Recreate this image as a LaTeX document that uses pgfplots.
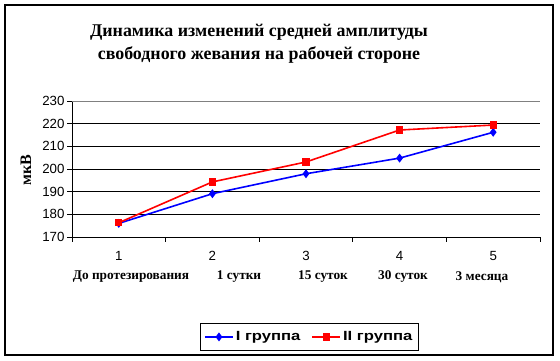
\documentclass[border=0pt]{standalone}
\usepackage{graphicx}
\usepackage{pgfplots}
\pgfplotsset{compat=1.18}
\usepackage{fontspec}
\setmainfont{Liberation Sans}
\newfontfamily\serif{Liberation Serif}
\begin{document}
\begin{tikzpicture}
\path (0pt,0pt) rectangle (560pt,361pt);
\draw[line width=1.4pt] (5pt,6pt) rectangle (553pt,356pt);
\node[font=\serif\bfseries\fontsize{17.9}{23}\selectfont, align=center] at (259pt,317pt) {Динамика изменений средней амплитуды\\свободного жевания на рабочей стороне};
\begin{axis}[
  at={(72pt,124pt)}, anchor=south west,
  scale only axis, width=468pt, height=136pt,
  xmin=0.5, xmax=5.5, ymin=170, ymax=230,
  ytick={170,180,...,230},
  xtick={0.5,1.5,...,5.5}, xticklabels={},
  extra x ticks={1,2,3,4,5},
  extra x tick labels={1,2,3,4,5},
  extra x tick style={major tick length=0pt, xticklabel style={yshift=-11pt}},
  axis x line*=bottom, axis y line*=left,
  axis line style={black, line width=0.8pt, -},
  ymajorgrids, grid style={black, line width=0.8pt},
  tick style={black, line width=0.8pt},
  major tick length=5pt,
  tick align=outside,
  /pgf/number format/assume math mode=true,
  tick label style={font=\fontsize{13.3}{15}\selectfont},
  yticklabel style={xshift=1pt},
  legend columns=2,
  legend style={at={(0.507,-0.735)}, anchor=center, draw=black, line width=0.8pt,
    font=\bfseries\fontsize{13.3}{15}\selectfont, inner xsep=4pt, inner ysep=6.5pt,
    /tikz/every even column/.append style={column sep=9pt}},
  legend image code/.code={\draw[mark repeat=2,mark phase=2] plot coordinates {(0pt,0pt)(14pt,0pt)(28pt,0pt)};},
  clip=false,
]
\addplot[blue, line width=1.6pt, mark=diamond*, mark size=3.2pt, mark options={solid}] coordinates {(1,176.0)(2,189.1)(3,197.9)(4,204.8)(5,216.2)};
\addlegendentry{\scalebox{1.25}[1]{I группа}}
\addplot[red, line width=1.6pt, mark=square*, mark size=2.8pt] coordinates {(1,176.3)(2,194.3)(3,203.1)(4,217.2)(5,219.4)};
\addlegendentry{\scalebox{1.25}[1]{II группа}}
\draw[gray, line width=0.8pt] (rel axis cs:0,1) -- (rel axis cs:1,1);
\end{axis}
\node[font=\serif\bfseries\fontsize{16}{18}\selectfont, rotate=90] at (26pt,191pt) {мкВ};
\begin{scope}[every node/.style={font=\serif\bfseries\fontsize{13.3}{15}\selectfont}]
\node at (131pt,84pt) {До протезирования};
\node at (239pt,84pt) {1 сутки};
\node at (323pt,84pt) {15 суток};
\node at (403pt,84pt) {30 суток};
\node at (482pt,84pt) {3 месяца};
\end{scope}
\end{tikzpicture}
\end{document}
